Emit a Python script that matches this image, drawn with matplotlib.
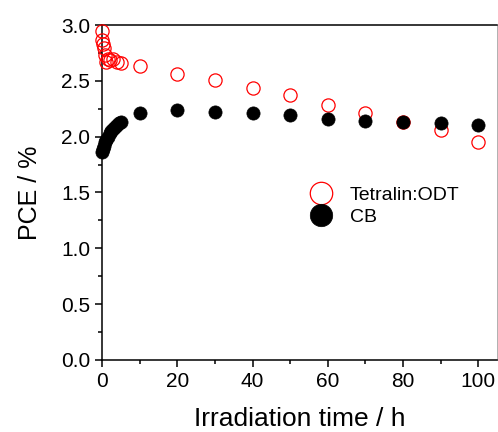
import matplotlib
matplotlib.use('Agg')
import matplotlib.pyplot as plt
from matplotlib.ticker import MultipleLocator

plt.rcParams['font.family'] = ['Liberation Sans', 'DejaVu Sans']

# Tetralin:ODT (open red circles)
t_odt = [0, 0.1, 0.25, 0.5, 0.75, 1, 1.5, 2, 3, 4, 5,
         10, 20, 30, 40, 50, 60, 70, 80, 90, 100]
pce_odt = [2.95, 2.87, 2.83, 2.79, 2.73, 2.67, 2.70, 2.69, 2.70, 2.67, 2.66,
           2.63, 2.56, 2.51, 2.44, 2.37, 2.28, 2.21, 2.13, 2.06, 1.95]

# CB (filled black circles)
t_cb = [0, 0.25, 0.5, 0.75, 1, 1.5, 2, 2.5, 3, 3.5, 4, 4.5, 5,
        10, 20, 30, 40, 50, 60, 70, 80, 90, 100]
pce_cb = [1.86, 1.89, 1.92, 1.95, 1.97, 2.00, 2.03, 2.05, 2.07, 2.09, 2.10, 2.12, 2.13,
          2.21, 2.24, 2.22, 2.21, 2.19, 2.16, 2.14, 2.13, 2.12, 2.10]

fig = plt.figure(figsize=(4.98, 4.32), dpi=100)
ax = fig.add_axes([0.205, 0.167, 0.793, 0.775])

ax.plot(t_odt, pce_odt, 'o', ms=9.5, mfc='none', mec='red', mew=0.9,
        clip_on=False, label='Tetralin:ODT', zorder=3)
ax.plot(t_cb, pce_cb, 'o', ms=9.5, mfc='black', mec='black', mew=0.5,
        clip_on=False, label='CB', zorder=4)

ax.set_xlim(0, 105)
ax.set_ylim(0, 3.0)
ax.xaxis.set_major_locator(MultipleLocator(20))
ax.xaxis.set_minor_locator(MultipleLocator(10))
ax.yaxis.set_major_locator(MultipleLocator(0.5))
ax.yaxis.set_minor_locator(MultipleLocator(0.25))
ax.yaxis.set_major_formatter(matplotlib.ticker.FormatStrFormatter('%.1f'))

for s in ax.spines.values():
    s.set_linewidth(1.1)
ax.spines['right'].set_color('#b0b0b0')
ax.spines['right'].set_linewidth(0.7)
ax.tick_params(which='major', direction='out', length=5, width=1.1, labelsize=15,
               top=False, right=False)
ax.tick_params(which='minor', direction='out', length=3, width=1.1,
               top=False, right=False)

ax.set_xlabel('Irradiation time / h', fontsize=19, labelpad=12)
ax.set_ylabel('PCE / %', fontsize=18, labelpad=14)

ax.legend(loc='upper left', bbox_to_anchor=(0.47, 0.56), frameon=False,
          fontsize=14, handletextpad=0.5, labelspacing=0.25, borderpad=0.2,
          markerscale=1.7)

fig.savefig('out.png', dpi=100)
